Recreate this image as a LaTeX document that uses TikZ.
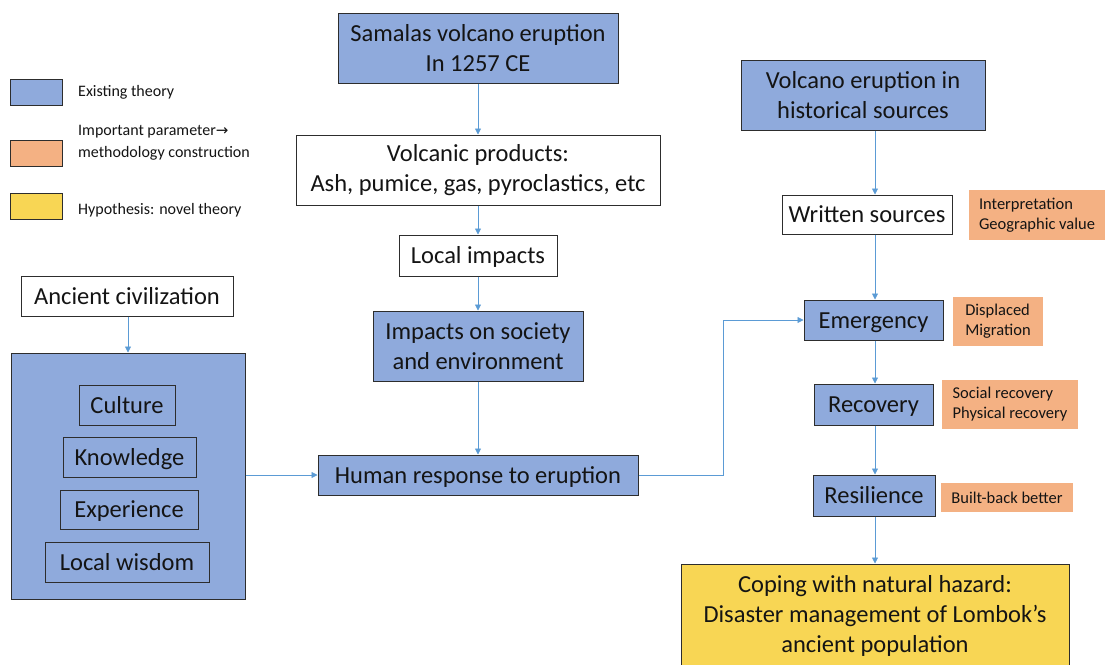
\documentclass[tikz,border=0pt]{standalone}
\usepackage{fontspec}
\setmainfont{Carlito}
\newfontfamily\dejavu{DejaVu Sans}
\usetikzlibrary{arrows.meta}
\definecolor{bluef}{RGB}{143,170,220}
\definecolor{orangef}{RGB}{244,177,131}
\definecolor{yellowf}{RGB}{248,214,84}
\definecolor{conn}{RGB}{91,155,213}
\definecolor{edgec}{RGB}{45,45,45}
\definecolor{txt}{RGB}{20,20,20}
\begin{document}
\begin{tikzpicture}[x=1pt,y=-1pt,
  box/.style={draw=edgec,line width=1pt,inner sep=0pt,align=center,
    font=\fontsize{24.5}{30}\selectfont,text=txt},
  oneline/.style={text height=18pt,text depth=2pt},
  bluebox/.style={box,fill=bluef},
  whitebox/.style={box,fill=white},
  yellowbox/.style={box,fill=yellowf},
  notebox/.style={fill=orangef,inner sep=0pt,align=left,text=txt,
    font=\fontsize{16.5}{20}\selectfont},
  legbox/.style={draw=edgec,line width=1pt,minimum width=52pt,minimum height=26pt,inner sep=0pt},
  legtext/.style={anchor=west,align=left,text=txt,font=\fontsize{16}{22}\selectfont,inner sep=0pt},
  arr/.style={draw=conn,line width=0.8pt,-{Triangle[length=6pt,width=6pt]}},
  sz/.style 2 args={minimum width=#1pt,minimum height=#2pt}
]
\useasboundingbox (0,0) rectangle (1105,664);
\fill[white] (0,0) rectangle (1105,664);

% legend
\node[legbox,fill=bluef] (l1) at (36,92) {};
\node[legtext] (l1t) at (78,92.5) {Existing theory};
\node[legtext] (l2t) at (78,142.5) {Important parameter{\dejavu\fontsize{15}{22}\selectfont →}\\methodology construction};
\node[legbox,fill=orangef] (l2) at (36,153.5) {};
\node[legbox,fill=yellowf] (l3) at (36,206.5) {};
\node[legtext] (l3t) at (78,210.5) {Hypothesis: novel theory};

% centre column
\node[bluebox,sz={280}{70}] (sam) at (478,48) {Samalas volcano eruption\\In 1257 CE};
\node[whitebox,sz={364}{70}] (vp) at (478,170) {Volcanic products:\\Ash, pumice, gas, pyroclastics, etc};
\node[whitebox,oneline,sz={158}{41}] (li) at (478,255.5) {Local impacts};
\node[bluebox,sz={210}{70}] (is) at (478,346) {Impacts on society\\and environment};
\node[bluebox,oneline,sz={320}{40}] (hr) at (478,475) {Human response to eruption};

% left column
\node[whitebox,oneline,sz={212}{40}] (ac) at (127,296) {Ancient civilization};
\node[bluebox,sz={234}{246}] (big) at (128,476) {};
\node[box,oneline,sz={96}{40}] (cu) at (127,405) {Culture};
\node[box,oneline,sz={133}{40}] (kn) at (129.5,457) {Knowledge};
\node[box,oneline,sz={138}{39}] (ex) at (129,509.5) {Experience};
\node[box,oneline,sz={164}{40}] (lw) at (127,562) {Local wisdom};

% right column
\node[bluebox,sz={244}{70}] (hs) at (863,95) {Volcano eruption in\\historical sources};
\node[whitebox,oneline,sz={170}{39}] (ws) at (867,214.5) {Written sources};
\node[notebox,sz={136}{50}] (n1) at (1037,215) {Interpretation\\Geographic value};
\node[bluebox,oneline,sz={139}{40}] (em) at (873.5,320) {Emergency};
\node[notebox,sz={90}{49}] (n2) at (998,321.5) {Displaced\\Migration};
\node[bluebox,oneline,sz={119}{41}] (rc) at (873.5,404.5) {Recovery};
\node[notebox,sz={136}{49}] (n3) at (1010,404.5) {Social recovery\\Physical recovery};
\node[bluebox,oneline,sz={122}{41}] (rs) at (874,495.5) {Resilience};
\node[notebox,sz={132}{29}] (n4) at (1007,497.5) {Built-back better};
\node[yellowbox,sz={388}{104}] (cp) at (875,616) {Coping with natural hazard:\\Disaster management of Lombok’s\\ancient population};

% connectors
\draw[arr] (sam.south -| li) -- (vp.north -| li);
\draw[arr] (vp.south -| li) -- (li.north);
\draw[arr] (li.south) -- (is.north);
\draw[arr] (is.south) -- (hr.north);
\draw[arr] (ac.south -| big) -- (big.north);
\draw[arr] (big.east |- hr) -- (hr.west);
\coordinate (bend) at (723,475);
\draw[arr] (hr.east) -- (bend) |- (em.west);
\draw[arr] (hs.south -| cp) -- (ws.north -| cp);
\draw[arr] (ws.south -| cp) -- (em.north -| cp);
\draw[arr] (em.south -| cp) -- (rc.north -| cp);
\draw[arr] (rc.south -| cp) -- (rs.north -| cp);
\draw[arr] (rs.south -| cp) -- (cp.north);
\end{tikzpicture}
\end{document}
